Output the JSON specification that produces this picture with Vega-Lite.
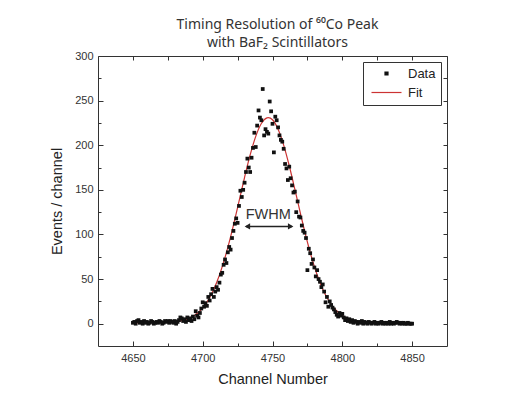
{
  "$schema": "https://vega.github.io/schema/vega-lite/v6.json",
  "width": 349,
  "height": 290,
  "autosize": "none",
  "padding": {"left": 98, "top": 56, "right": 63, "bottom": 61},
  "background": "white",
  "config": {
    "view": {"stroke": "#333", "strokeWidth": 1},
    "font": "Liberation Sans"
  },
  "title": {
    "text": ["Timing Resolution of ⁶⁰Co Peak", "with BaF₂ Scintillators"],
    "font": "Noto Sans",
    "fontSize": 14,
    "fontWeight": "normal",
    "color": "#333",
    "offset": 0,
    "dx": 5,
    "lineHeight": 18
  },
  "datasets": {
    "pts": [
      {"channel":4650,"events":1},{"channel":4651,"events":2},{"channel":4652,"events":0},{"channel":4653,"events":3},{"channel":4654,"events":4},
      {"channel":4655,"events":1},{"channel":4656,"events":2},{"channel":4657,"events":0},{"channel":4658,"events":3},{"channel":4659,"events":1},
      {"channel":4660,"events":2},{"channel":4661,"events":0},{"channel":4662,"events":1},{"channel":4663,"events":3},{"channel":4664,"events":2},
      {"channel":4665,"events":0},{"channel":4666,"events":1},{"channel":4667,"events":2},{"channel":4668,"events":1},{"channel":4669,"events":3},
      {"channel":4670,"events":2},{"channel":4671,"events":0},{"channel":4672,"events":1},{"channel":4673,"events":3},{"channel":4674,"events":2},
      {"channel":4675,"events":3},{"channel":4676,"events":1},{"channel":4677,"events":3},{"channel":4678,"events":2},{"channel":4679,"events":1},
      {"channel":4680,"events":3},{"channel":4681,"events":0},{"channel":4682,"events":2},{"channel":4683,"events":4},{"channel":4684,"events":7},
      {"channel":4685,"events":6},{"channel":4686,"events":3},{"channel":4687,"events":5},{"channel":4688,"events":2},{"channel":4689,"events":7},
      {"channel":4690,"events":4},{"channel":4691,"events":6},{"channel":4692,"events":3},{"channel":4693,"events":8},{"channel":4694,"events":5},
      {"channel":4695,"events":14},{"channel":4696,"events":9},{"channel":4697,"events":7},{"channel":4698,"events":12},{"channel":4699,"events":17},
      {"channel":4700,"events":24},{"channel":4701,"events":19},{"channel":4702,"events":23},{"channel":4703,"events":20},{"channel":4704,"events":30},
      {"channel":4705,"events":26},{"channel":4706,"events":33},{"channel":4707,"events":39},{"channel":4708,"events":30},{"channel":4709,"events":36},
      {"channel":4710,"events":41},{"channel":4711,"events":38},{"channel":4712,"events":46},{"channel":4713,"events":55},{"channel":4714,"events":57},
      {"channel":4715,"events":66},{"channel":4716,"events":72},{"channel":4717,"events":68},{"channel":4718,"events":80},{"channel":4719,"events":86},
      {"channel":4720,"events":83},{"channel":4721,"events":96},{"channel":4722,"events":104},{"channel":4723,"events":112},{"channel":4724,"events":118},
      {"channel":4725,"events":113},{"channel":4726,"events":132},{"channel":4727,"events":149},{"channel":4728,"events":142},{"channel":4729,"events":150},
      {"channel":4730,"events":158},{"channel":4731,"events":170},{"channel":4732,"events":185},{"channel":4733,"events":175},{"channel":4734,"events":170},
      {"channel":4735,"events":186},{"channel":4736,"events":197},{"channel":4737,"events":214},{"channel":4738,"events":198},{"channel":4739,"events":222},
      {"channel":4740,"events":239},{"channel":4741,"events":231},{"channel":4742,"events":228},{"channel":4743,"events":263},{"channel":4744,"events":211},
      {"channel":4745,"events":218},{"channel":4746,"events":215},{"channel":4747,"events":213},{"channel":4748,"events":249},{"channel":4749,"events":238},
      {"channel":4750,"events":224},{"channel":4751,"events":192},{"channel":4752,"events":232},{"channel":4753,"events":228},{"channel":4754,"events":220},
      {"channel":4755,"events":211},{"channel":4756,"events":206},{"channel":4757,"events":204},{"channel":4758,"events":196},{"channel":4759,"events":179},
      {"channel":4760,"events":174},{"channel":4761,"events":161},{"channel":4762,"events":176},{"channel":4763,"events":163},{"channel":4764,"events":155},
      {"channel":4765,"events":147},{"channel":4766,"events":148},{"channel":4767,"events":125},{"channel":4768,"events":137},{"channel":4769,"events":120},
      {"channel":4770,"events":119},{"channel":4771,"events":110},{"channel":4772,"events":104},{"channel":4773,"events":102},{"channel":4774,"events":96},
      {"channel":4775,"events":60},{"channel":4776,"events":84},{"channel":4777,"events":79},{"channel":4778,"events":67},{"channel":4779,"events":72},
      {"channel":4780,"events":63},{"channel":4781,"events":53},{"channel":4782,"events":60},{"channel":4783,"events":50},{"channel":4784,"events":47},
      {"channel":4785,"events":41},{"channel":4786,"events":44},{"channel":4787,"events":36},{"channel":4788,"events":24},{"channel":4789,"events":30},
      {"channel":4790,"events":19},{"channel":4791,"events":25},{"channel":4792,"events":21},{"channel":4793,"events":18},{"channel":4794,"events":16},
      {"channel":4795,"events":13},{"channel":4796,"events":10},{"channel":4797,"events":8},{"channel":4798,"events":12},{"channel":4799,"events":9},
      {"channel":4800,"events":11},{"channel":4801,"events":7},{"channel":4802,"events":4},{"channel":4803,"events":6},{"channel":4804,"events":3},
      {"channel":4805,"events":5},{"channel":4806,"events":2},{"channel":4807,"events":4},{"channel":4808,"events":1},{"channel":4809,"events":3},
      {"channel":4810,"events":2},{"channel":4811,"events":0},{"channel":4812,"events":2},{"channel":4813,"events":1},{"channel":4814,"events":3},
      {"channel":4815,"events":0},{"channel":4816,"events":2},{"channel":4817,"events":1},{"channel":4818,"events":0},{"channel":4819,"events":2},
      {"channel":4820,"events":1},{"channel":4821,"events":0},{"channel":4822,"events":1},{"channel":4823,"events":2},{"channel":4824,"events":0},
      {"channel":4825,"events":1},{"channel":4826,"events":0},{"channel":4827,"events":1},{"channel":4828,"events":2},{"channel":4829,"events":0},
      {"channel":4830,"events":1},{"channel":4831,"events":0},{"channel":4832,"events":1},{"channel":4833,"events":0},{"channel":4834,"events":2},
      {"channel":4835,"events":0},{"channel":4836,"events":1},{"channel":4837,"events":0},{"channel":4838,"events":1},{"channel":4839,"events":2},
      {"channel":4840,"events":1},{"channel":4841,"events":0},{"channel":4842,"events":1},{"channel":4843,"events":0},{"channel":4844,"events":1},
      {"channel":4845,"events":0},{"channel":4846,"events":0},{"channel":4847,"events":1},{"channel":4848,"events":0},{"channel":4849,"events":0},
      {"channel":4850,"events":0}
    ],
    "fit": [
      {"channel":4650,"events":1.0},{"channel":4654,"events":1.0},{"channel":4658,"events":1.0},{"channel":4662,"events":1.04},{"channel":4666,"events":1.09},
      {"channel":4670,"events":1.2},{"channel":4674,"events":1.4},{"channel":4678,"events":1.8},{"channel":4682,"events":2.5},{"channel":4686,"events":3.7},
      {"channel":4690,"events":5.8},{"channel":4694,"events":9.1},{"channel":4698,"events":14.2},{"channel":4702,"events":21.7},{"channel":4706,"events":32.1},
      {"channel":4710,"events":46.1},{"channel":4714,"events":64.0},{"channel":4718,"events":85.6},{"channel":4722,"events":110.3},{"channel":4726,"events":137.1},
      {"channel":4730,"events":164.1},{"channel":4734,"events":189.1},{"channel":4738,"events":209.9},{"channel":4742,"events":224.3},{"channel":4746,"events":230.7},
      {"channel":4747,"events":231.0},{"channel":4750,"events":228.6},{"channel":4754,"events":218.0},{"channel":4758,"events":200.2},{"channel":4762,"events":177.0},
      {"channel":4766,"events":150.7},{"channel":4770,"events":123.6},{"channel":4774,"events":97.6},{"channel":4778,"events":74.3},{"channel":4782,"events":54.5},
      {"channel":4786,"events":38.6},{"channel":4790,"events":26.5},{"channel":4794,"events":17.6},{"channel":4798,"events":11.4},{"channel":4802,"events":7.3},
      {"channel":4806,"events":4.7},{"channel":4810,"events":3.0},{"channel":4814,"events":2.1},{"channel":4818,"events":1.6},{"channel":4822,"events":1.3},
      {"channel":4826,"events":1.1},{"channel":4830,"events":1.06},{"channel":4834,"events":1.03},{"channel":4838,"events":1.0},{"channel":4842,"events":1.0},
      {"channel":4846,"events":1.0},{"channel":4850,"events":1.0}
    ],
    "arrow": [{"x1":4731,"x2":4764,"y":109}],
    "heads": [{"x":4732,"y":109,"dir":"left"},{"x":4763,"y":109,"dir":"right"}],
    "label": [{"x":4747,"y":122,"text":"FWHM"}]
  },
  "layer": [
    {
      "data": {"name": "fit"},
      "mark": {"type": "line", "interpolate": "monotone", "strokeWidth": 1.2},
      "encoding": {
        "x": {"field": "channel", "type": "quantitative", "scale": {"domain": [4625, 4875], "nice": false, "zero": false}, "axis": null},
        "y": {"field": "events", "type": "quantitative", "scale": {"domain": [-25, 300], "nice": false, "zero": false}, "axis": null},
        "color": {
          "datum": "Fit", "type": "nominal",
          "scale": {"domain": ["Data", "Fit"], "range": ["#111111", "#cc3333"]},
          "legend": {
            "title": null,
            "orient": "top-right",
            "offset": 6,
            "strokeColor": "#333",
            "fillColor": "white",
            "padding": 5,
            "symbolSize": 100,
            "symbolOffset": 12,
            "labelOffset": 15,
            "rowPadding": 5,
            "labelFont": "Liberation Sans",
            "labelFontSize": 13,
            "labelColor": "#222",
            "encode": {
              "symbols": {
                "update": {
                  "shape": {"signal": "datum.value === 'Data' ? 'square' : 'M-3,0H3'"},
                  "size": {"signal": "datum.value === 'Data' ? 9 : 100"},
                  "fill": {"signal": "datum.value === 'Data' ? '#111111' : 'transparent'"},
                  "stroke": {"signal": "datum.value === 'Data' ? 'transparent' : '#cc3333'"},
                  "strokeWidth": {"value": 1.2},
                  "opacity": {"value": 1}
                }
              }
            }
          }
        }
      }
    },
    {
      "data": {"name": "pts"},
      "mark": {"type": "point", "shape": "square", "filled": true, "size": 14, "opacity": 1},
      "encoding": {
        "x": {
          "field": "channel", "type": "quantitative",
          "axis": {
            "orient": "bottom",
            "values": [4650,4675,4700,4725,4750,4775,4800,4825,4850],
            "format": "d",
            "labelExpr": "datum.value % 50 === 0 ? datum.label : ''",
            "tickSize": {"condition": {"test": "datum.value % 50 === 0", "value": -5}, "value": -3},
            "tickColor": "#333",
            "domain": false,
            "grid": false,
            "title": "Channel Number",
            "titleFont": "Liberation Sans",
            "titleFontSize": 14.5,
            "titleFontWeight": "normal",
            "titleColor": "#222",
            "titlePadding": 9,
            "labelFont": "Liberation Sans",
            "labelFontSize": 11,
            "labelColor": "#333",
            "labelPadding": 11
          }
        },
        "y": {
          "field": "events", "type": "quantitative",
          "axis": {
            "orient": "left",
            "values": [0,25,50,75,100,125,150,175,200,225,250,275,300],
            "labelExpr": "datum.value % 50 === 0 ? datum.label : ''",
            "tickSize": {"condition": {"test": "datum.value % 50 === 0", "value": -5}, "value": -3},
            "tickColor": "#333",
            "domain": false,
            "grid": false,
            "title": "Events / channel",
            "titleFont": "Liberation Sans",
            "titleFontSize": 14.5,
            "titleFontWeight": "normal",
            "titleColor": "#222",
            "titlePadding": 10,
            "labelFont": "Liberation Sans",
            "labelFontSize": 11,
            "labelColor": "#333",
            "labelPadding": 10
          }
        },
        "color": {
          "datum": "Data", "type": "nominal",
          "legend": {
            "title": null,
            "orient": "top-right",
            "offset": 6,
            "strokeColor": "#333",
            "fillColor": "white",
            "padding": 5,
            "symbolSize": 100,
            "symbolOffset": 12,
            "labelOffset": 15,
            "rowPadding": 5,
            "labelFont": "Liberation Sans",
            "labelFontSize": 13,
            "labelColor": "#222",
            "encode": {
              "symbols": {
                "update": {
                  "shape": {"signal": "datum.value === 'Data' ? 'square' : 'M-3,0H3'"},
                  "size": {"signal": "datum.value === 'Data' ? 9 : 100"},
                  "fill": {"signal": "datum.value === 'Data' ? '#111111' : 'transparent'"},
                  "stroke": {"signal": "datum.value === 'Data' ? 'transparent' : '#cc3333'"},
                  "strokeWidth": {"value": 1.2},
                  "opacity": {"value": 1}
                }
              }
            }
          }
        }
      }
    },
    {
      "data": {"name": "arrow"},
      "mark": {"type": "rule", "color": "#222", "strokeWidth": 1.6},
      "encoding": {
        "x": {"field": "x1", "type": "quantitative", "axis": null},
        "x2": {"field": "x2"},
        "y": {"field": "y", "type": "quantitative", "axis": null}
      }
    },
    {
      "data": {"name": "heads"},
      "mark": {"type": "point", "filled": true, "size": 40, "color": "#222", "opacity": 1},
      "encoding": {
        "x": {"field": "x", "type": "quantitative", "axis": null},
        "y": {"field": "y", "type": "quantitative", "axis": null},
        "shape": {"field": "dir", "type": "nominal", "scale": {"domain": ["left", "right"], "range": ["triangle-left", "triangle-right"]}, "legend": null}
      }
    },
    {
      "data": {"name": "label"},
      "mark": {"type": "text", "font": "Liberation Sans", "fontSize": 14.5, "color": "#333", "baseline": "middle", "align": "center"},
      "encoding": {
        "x": {
          "field": "x", "type": "quantitative",
          "axis": {
            "orient": "top",
            "values": [4650,4675,4700,4725,4750,4775,4800,4825,4850],
            "labels": false,
            "title": null,
            "domain": false,
            "grid": false,
            "tickColor": "#333",
            "tickSize": -4
          }
        },
        "y": {
          "field": "y", "type": "quantitative",
          "axis": {
            "orient": "right",
            "values": [0,25,50,75,100,125,150,175,200,225,250,275,300],
            "labels": false,
            "title": null,
            "domain": false,
            "grid": false,
            "tickColor": "#333",
            "tickSize": -4
          }
        },
        "text": {"field": "text"}
      }
    }
  ],
  "resolve": {"axis": {"x": "independent", "y": "independent"}}
}
